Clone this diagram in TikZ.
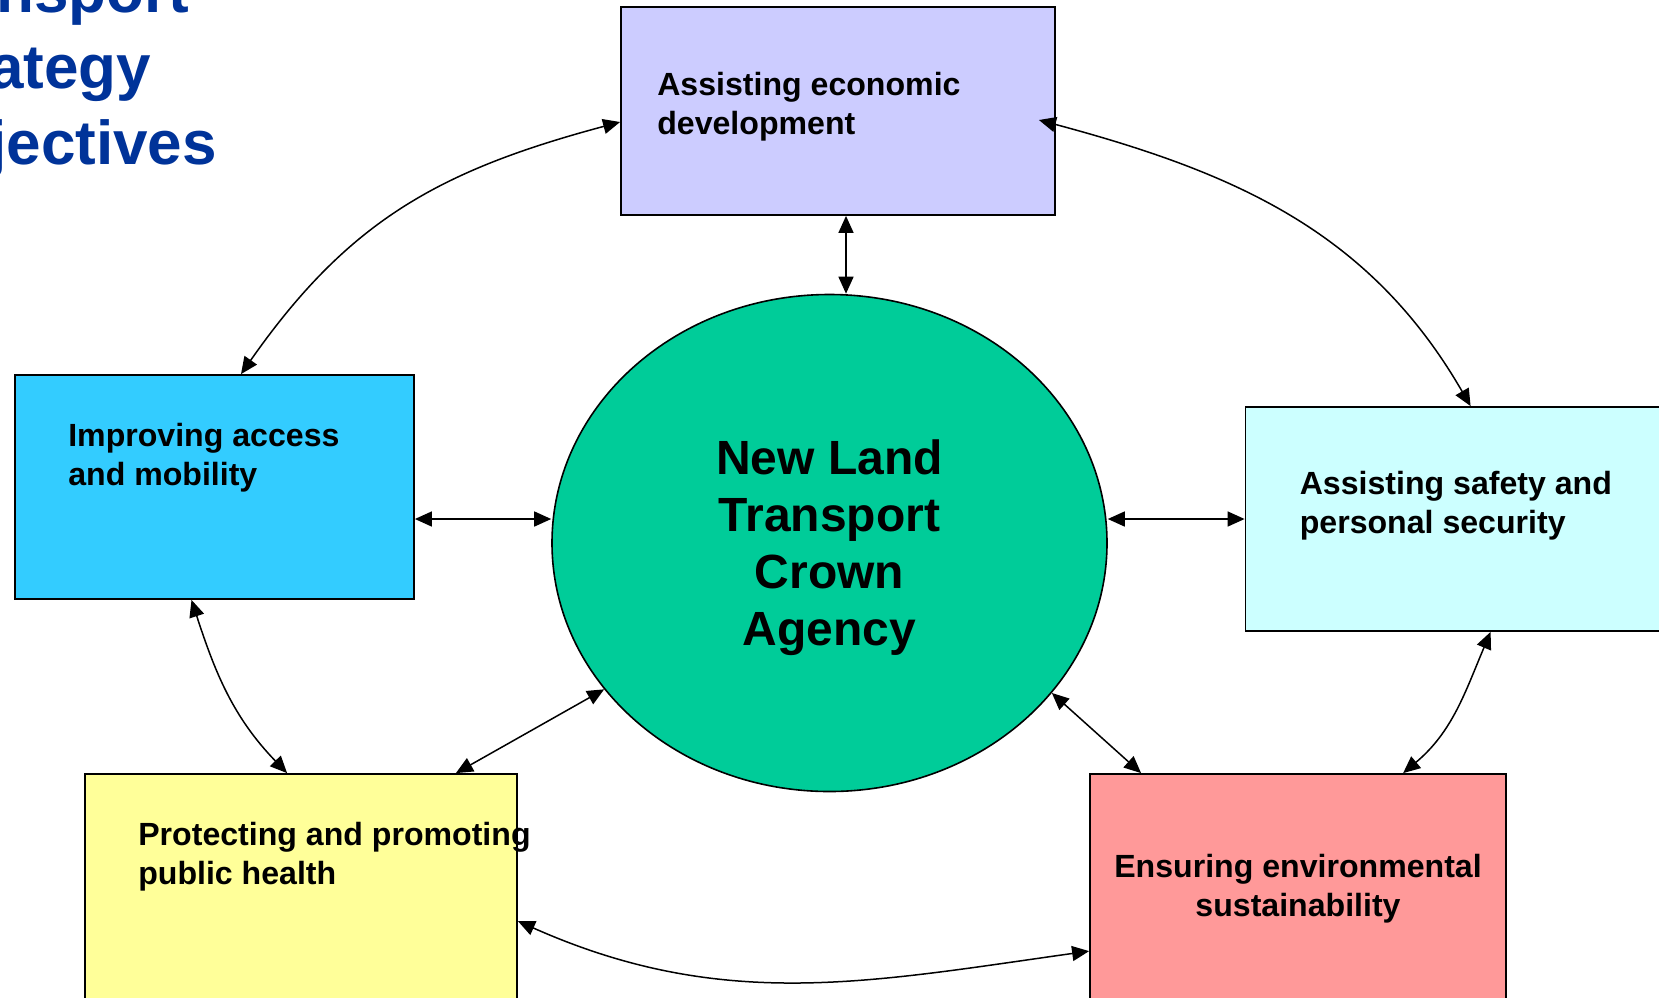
\documentclass[tikz,border=0pt]{standalone}
\usepackage{fontspec}
\setmainfont{Liberation Sans}
\usepackage{xcolor}
\usetikzlibrary{positioning, shapes.geometric, arrows.meta}

\definecolor{titleblue}{HTML}{003399}
\definecolor{econfill}{HTML}{CCCCFF}
\definecolor{accessfill}{HTML}{33CCFF}
\definecolor{safetyfill}{HTML}{CCFFFF}
\definecolor{healthfill}{HTML}{FFFF99}
\definecolor{envfill}{HTML}{FF9999}
\definecolor{agencyfill}{HTML}{00CC99}

\begin{document}
\begin{tikzpicture}[
    x=1pt, y=-1pt,
    goalbox/.style={rectangle, draw, line width=1.8pt, inner sep=0pt},
    goaltext/.style={inner sep=0pt, align=left, font=\fontsize{32.1}{38.5}\selectfont\bfseries},
    agency/.style={ellipse, draw, line width=1.6pt, fill=agencyfill, inner sep=0pt,
        minimum width=555pt, minimum height=497pt},
    agencytext/.style={inner sep=0pt, align=center, font=\fontsize{48}{57}\selectfont\bfseries},
    link/.style={{Triangle[length=17pt,width=15pt]}-{Triangle[length=17pt,width=15pt]}, line width=1.5pt}
]
\useasboundingbox (0,0) rectangle (1659,997);
\clip (0,0) rectangle (1659,997);

% Title, cut off at the left
\node[anchor=north west, align=left, inner sep=0pt, text=titleblue,
    font=\fontsize{62}{76}\selectfont\bfseries] (title) at (-97,-30) {Transport\\Strategy\\Objectives};

% Centre
\node[agency] (nltca) at (829.5,543) {};
\node[agencytext, anchor=north] (nltcatxt) at ([yshift=-145.5pt]nltca.north) {New Land~\\Transport\\Crown\\Agency};

% Objective boxes
\node[goalbox, fill=econfill, minimum width=434pt, minimum height=208pt] (econ) at (838,111) {};
\node[goalbox, fill=accessfill, minimum width=399pt, minimum height=224pt] (access) at (214.5,487) {};
\node[goalbox, fill=safetyfill, minimum width=440pt, minimum height=224pt] (safety) at (1465.5,519) {};
\node[goalbox, fill=healthfill, minimum width=432pt, minimum height=246pt] (health) at (301,897) {};
\node[goalbox, fill=envfill, minimum width=416pt, minimum height=246pt] (env) at (1298,897) {};

\node[goaltext, anchor=north west] (econtxt) at ([xshift=37pt,yshift=-66pt]econ.north west) {Assisting economic\\development};
\node[goaltext, anchor=north west] (accesstxt) at ([xshift=54pt,yshift=-49pt]access.north west) {Improving access\\and mobility};
\node[goaltext, anchor=north west] (safetytxt) at ([xshift=55pt,yshift=-65pt]safety.north west) {Assisting safety and\\personal security};
\node[goaltext, anchor=north west] (healthtxt) at ([xshift=54pt,yshift=-49pt]health.north west) {Protecting and promoting\\public health};
\node[goaltext, anchor=north, align=center] (envtxt) at ([yshift=-81pt]env.north) {Ensuring environmental\\sustainability};

% Links to the centre
\draw[link] ([xshift=8pt]econ.south) -- ([xshift=8pt]econ.south |- nltca.north);
\draw[link] (access.east |- safety.west) -- (nltca.west |- safety.west);
\draw[link] (nltca.east |- safety.west) -- (safety.west);
\draw[link] ([xshift=-62pt]health.north east) -- (nltca.213.5);
\draw[link] (nltca.326.5) -- ([xshift=52pt]env.north west);

% Links round the ring
\draw[link] ([yshift=-11pt]econ.west) to[out=195, in=55, looseness=1.05] ([xshift=26.5pt]access.north);
\draw[link] ([xshift=-17pt,yshift=-9pt]econ.east) to[out=345, in=120] ([xshift=226pt]safety.north west);
\draw[link] ([xshift=-23pt]access.south) to[out=-72, in=134] ([xshift=203pt]health.north west);
\draw[link] ([xshift=246pt]safety.south west) to[out=247, in=40] ([xshift=314pt]env.north west);
\draw[link] ([yshift=-148pt]health.north east) to[out=-24, in=188] ([yshift=-178pt]env.north west);

\end{tikzpicture}
\end{document}
